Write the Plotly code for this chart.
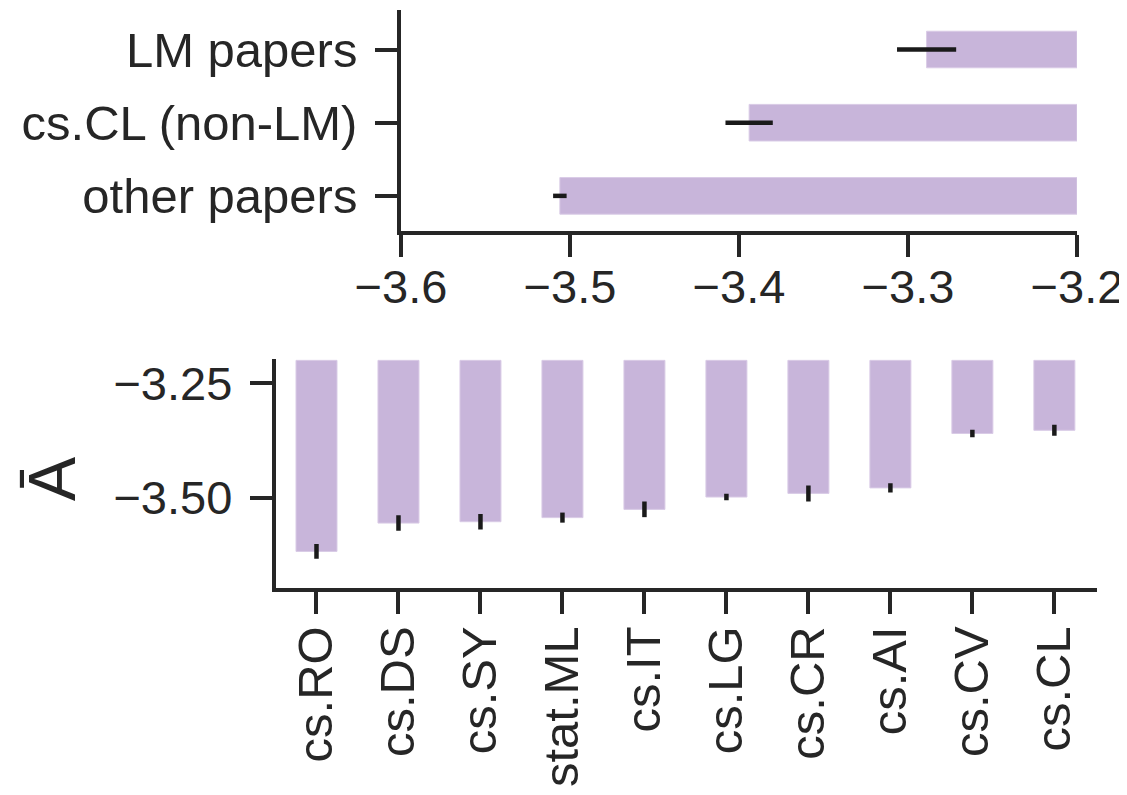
import plotly.graph_objects as go

# Top panel data
top_categories = ["other papers", "cs.CL (non-LM)", "LM papers"]
top_values = [-3.506, -3.394, -3.289]
top_errors = [0.004, 0.014, 0.0175]

# Bottom panel data
bottom_categories = ["cs.RO", "cs.DS", "cs.SY", "stat.ML", "cs.IT",
                     "cs.LG", "cs.CR", "cs.AI", "cs.CV", "cs.CL"]
bottom_values = [-3.618, -3.556, -3.553, -3.544, -3.526,
                 -3.499, -3.491, -3.479, -3.360, -3.353]
bottom_errors = [0.016, 0.017, 0.017, 0.011, 0.017,
                 0.007, 0.0175, 0.010, 0.008, 0.012]

BASE = -3.2
BAR_COLOR = "#c8b5da"
INK = "#262626"
ERR = "#1a1a1a"
FONT = "Liberation Sans, Arial, Helvetica, sans-serif"

# page body has an 8px margin; size the figure to the remaining area
OX, OY = 8, 8
W, H = 1127 - OX, 795 - OY


def dx(px):
    return (px - OX) / W


def dy(py):
    return 1 - (py - OY) / H


fig = go.Figure()

fig.add_trace(go.Bar(
    y=top_categories,
    x=[v - BASE for v in top_values],
    base=BASE,
    orientation="h",
    width=0.5,
    marker=dict(color=BAR_COLOR, line=dict(color="#d9cbe6", width=1)),
    error_x=dict(type="data", array=top_errors, visible=True,
                 thickness=4.5, width=0, color=ERR),
    xaxis="x", yaxis="y",
    showlegend=False,
))

fig.add_trace(go.Bar(
    x=bottom_categories,
    y=[v - BASE for v in bottom_values],
    base=BASE,
    width=0.5,
    marker=dict(color=BAR_COLOR, line=dict(color="#d9cbe6", width=1)),
    error_y=dict(type="data", array=bottom_errors, visible=True,
                 thickness=4.5, width=0, color=ERR),
    xaxis="x2", yaxis="y2",
    showlegend=False,
))

axis_common = dict(
    showgrid=False, zeroline=False, automargin=False,
    showline=True, linecolor=INK, linewidth=3.5,
    ticks="outside", ticklen=22, tickwidth=3.5, tickcolor=INK,
)
num_font = dict(family=FONT, size=47, color=INK)
cat_font = dict(family=FONT, size=49, color=INK)

fig.update_layout(
    template="none",
    width=W, height=H,
    margin=dict(l=0, r=0, t=0, b=0),
    paper_bgcolor="white", plot_bgcolor="white",
    font=dict(family=FONT, color=INK),
    xaxis=dict(domain=[dx(401), dx(1077)], range=[-3.6, -3.2],
               tickvals=[-3.6, -3.5, -3.4, -3.3, -3.2],
               ticktext=["\u22123.6", "\u22123.5", "\u22123.4", "\u22123.3", "\u22123.2"],
               tickfont=num_font, ticklabelstandoff=-10,
               anchor="y", **axis_common),
    yaxis=dict(domain=[dy(231), dy(10)], range=[-0.48, 2.54],
               type="category", categoryorder="array", categoryarray=top_categories,
               tickfont=cat_font, ticklabelstandoff=8,
               anchor="x", **axis_common),
    xaxis2=dict(domain=[dx(275.5), dx(1097)], range=[-0.5, 9.52],
                type="category", categoryorder="array", categoryarray=bottom_categories,
                tickangle=-90, tickfont=cat_font, ticklabelstandoff=-7,
                anchor="y2", **axis_common),
    yaxis2=dict(domain=[dy(588), dy(359)], range=[-3.698, -3.197],
                tickvals=[-3.25, -3.5],
                ticktext=["\u22123.25", "\u22123.50"],
                tickfont=num_font, ticklabelstandoff=8,
                anchor="x2", **axis_common),
    bargap=0.5,
    annotations=[dict(
        text="\u0100", x=dx(52), y=dy(479), xref="paper", yref="paper",
        textangle=-90, showarrow=False,
        font=dict(family=FONT, size=66, color=INK),
        xanchor="center", yanchor="middle",
    )],
)

fig.write_html("out.html")
